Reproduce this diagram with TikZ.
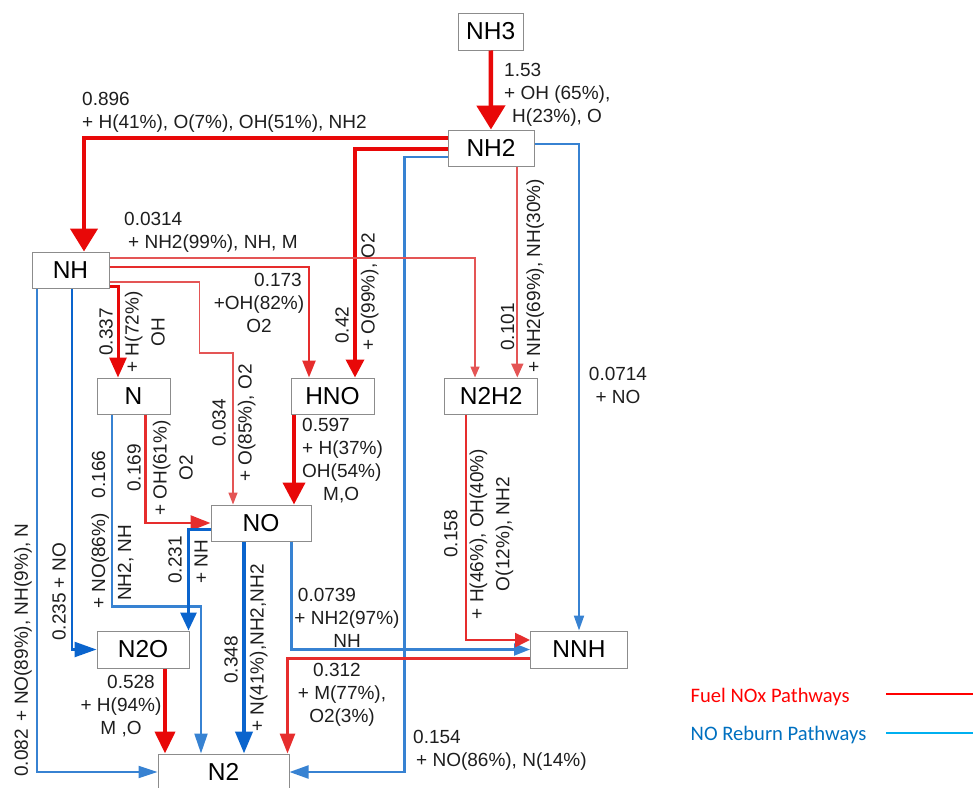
\documentclass[tikz,border=0pt]{standalone}
\usepackage{fontspec}
\setmainfont{Liberation Sans}
\newfontfamily\legendfont{Carlito}
\usetikzlibrary{arrows.meta,calc}
\definecolor{redA}{RGB}{232,8,8}
\definecolor{redM}{RGB}{230,45,45}
\definecolor{redB}{RGB}{228,85,85}
\definecolor{blueA}{RGB}{10,100,205}
\definecolor{blueB}{RGB}{55,130,210}
\definecolor{boxgray}{RGB}{140,140,140}
\definecolor{txt}{RGB}{30,30,30}
\definecolor{legred}{RGB}{255,0,0}
\definecolor{legblue}{RGB}{0,112,192}
\definecolor{legline}{RGB}{0,176,240}
\tikzset{
  box/.style={draw=boxgray, line width=1pt, fill=white, minimum height=36pt, inner sep=0pt, text=black, font=\fontsize{24.5}{28}\selectfont},
  lbl/.style={inner sep=0pt, text=txt, font=\fontsize{19}{23}\selectfont},
  rlbl/.style={inner sep=0pt, text=txt, rotate=90, font=\fontsize{19}{26}\selectfont},
  flow/.style n args={4}{draw=#1, line width=#2, -{Triangle[width=#3,length=#4]}},
  legtext/.style={inner sep=0pt, anchor=base west, font=\legendfont\fontsize{20.6}{24}\selectfont}
}
\begin{document}
\begin{tikzpicture}[x=1pt,y=-1pt]
\useasboundingbox (0,0) rectangle (973,787);
% nodes
\node[box, minimum width=65pt, minimum height=37pt] (NH3) at (490.7,31.5) {NH3};
\node[box, minimum width=86pt] (NH2) at (491,148) {NH2};
\node[box, minimum width=77pt] (NH) at (70.5,270) {NH};
\node[box, minimum width=73pt] (N) at (133.5,396) {N};
\node[box, minimum width=83pt] (HNO) at (332.5,396) {HNO};
\node[box, minimum width=93pt] (N2H2) at (491.2,396) {N2H2};
\node[box, minimum width=100pt] (NO) at (261,523) {NO};
\node[box, minimum width=92pt, minimum height=37pt] (N2O) at (143,649.5) {N2O};
\node[box, minimum width=97pt, minimum height=37pt] (NNH) at (579,649.5) {NNH};
\node[box, minimum width=131pt] (N2) at (223.5,772) {N2};
% connectors
\draw[flow={redA}{4.5pt}{28pt}{24pt}] (NH3) -- (NH2);
\draw[flow={redA}{4.5pt}{27pt}{23pt}] ([yshift=10pt]NH2.west) -| ([xshift=13.5pt]NH.north);
\draw[flow={redA}{3.5pt}{18pt}{18pt}] ([yshift=-1pt]NH2.west) -| ([xshift=22.5pt]HNO.north);
\draw[flow={blueB}{2.2pt}{13pt}{19pt}] ([yshift=-9pt]NH2.west) -| ([xshift=115pt]N2.east) -- (N2.east);
\draw[flow={blueB}{2pt}{10pt}{15pt}] ([yshift=4pt]NH2.east) -| (NNH.north);
\draw[flow={redB}{2pt}{12pt}{14pt}] ([xshift=26.3pt]NH2.south) -- ([xshift=26.3pt]NH2.south |- N2H2.north);
\draw[flow={redB}{1.5pt}{9pt}{11pt}] ([yshift=12pt]NH.east) -| ([xshift=-16.2pt]N2H2.north);
\draw[flow={redM}{2.5pt}{13pt}{17pt}] ([yshift=3pt]NH.east) -| ([xshift=-23.5pt]HNO.north);
\draw[flow={redB}{1.5pt}{9pt}{12pt}] ([yshift=-12pt]NH.east) -- ++(90,0) -- ++(0,71) -| ([xshift=-28pt]NO.north);
\draw[flow={redA}{3pt}{17pt}{20pt}] ([yshift=-16pt]NH.east) -| ([xshift=-15.5pt]N.north);
\draw[flow={blueB}{2pt}{12pt}{19pt}] ([xshift=-33.5pt]NH.south) |- (N2.west);
\draw[flow={blueA}{2.5pt}{15pt}{22pt}] ([xshift=1.5pt]NH.south) |- (N2O.west);
\draw[flow={blueB}{2.2pt}{13pt}{20pt}] ([xshift=-21.5pt]N.south) -- ++(0,192) -| ([xshift=-22.5pt]N2.north);
\draw[flow={redM}{2.5pt}{15pt}{20pt}] ([xshift=12pt]N.south) |- (NO.west);
\draw[flow={redA}{4pt}{22pt}{22pt}] ([xshift=-38.5pt]HNO.south) -- ([xshift=-38.5pt]HNO.south |- NO.north);
\draw[flow={blueA}{3pt}{16pt}{18pt}] ([yshift=-6pt]NO.west) -| ([xshift=45.5pt]N2O.north);
\draw[flow={blueA}{4pt}{17pt}{22pt}] ([xshift=-17pt]NO.south) -- ([xshift=-17pt]NO.south |- N2.north);
\draw[flow={blueB}{2.1pt}{12pt}{16pt}] ([xshift=30.5pt]NO.south) |- (NNH.west);
\draw[flow={redM}{2.5pt}{14pt}{15pt}] ([xshift=-25.4pt]N2H2.south) |- ([yshift=9.5pt]NNH.west);
\draw[flow={redM}{3pt}{15pt}{20pt}] ([yshift=-8.5pt]NNH.west) -| ([xshift=64pt]N2.north);
\draw[flow={redA}{4pt}{20pt}{22pt}] ([xshift=22pt]N2O.south) -- ([xshift=22pt]N2O.south |- N2.north);
% labels
\node[lbl, anchor=north west, align=left] (l1) at (504,63) {1.53\\+ OH (65\%),\\\hspace*{8pt}H(23\%), O};
\node[lbl, anchor=north west, align=left] (l2) at (82,92) {0.896\\+ H(41\%), O(7\%), OH(51\%), NH2};
\node[lbl, anchor=north west, align=left] (l3) at (124,212) {0.0314\\\hspace*{4pt}+ NH2(99\%), NH, M};
\node[lbl, anchor=north, align=center] (l4) at (259,273) {\hspace*{38pt}0.173\\+OH(82\%)\\O2};
\node[rlbl, anchor=west, align=left] (l5) at (357,351) {\hspace*{7pt}0.42\\+ O(99\%), O2};
\node[rlbl, anchor=west, align=left] (l6) at (522.5,373) {\hspace*{22pt}0.101\\+ NH2(69\%), NH(30\%)};
\node[lbl, anchor=north, align=center] (l7) at (618,367) {0.0714\\+ NO};
\node[rlbl, align=center] (l8) at (132,332) {0.337\\+ H(72\%)\\OH};
\node[rlbl, align=center] (l9) at (234,423) {0.034\\+ O(85\%), O2};
\node[rlbl, align=center] (l10) at (160,468) {0.169\\+ OH(61\%)\\O2};
\node[lbl, anchor=north west, align=left] (l11) at (302,418) {0.597\\+ H(37\%)\\OH(54\%)\\\hspace*{21pt}M,O};
\node[rlbl, anchor=west, align=left] (l12) at (112.5,609) {+ NO(86\%)\hspace{15pt}0.166\\\hspace*{8pt}NH2, NH};
\node[rlbl, anchor=west] (l13) at (23,777) {0.082\hspace{8pt}+ NO(89\%), NH(9\%), N};
\node[rlbl, anchor=west] (l14) at (59,641) {0.235 + NO};
\node[rlbl, anchor=west, align=left] (l15) at (188,584) {0.231\\+ NH};
\node[rlbl, align=center] (l16) at (246,648) {0.348\hspace*{24pt}\\+ N(41\%),NH2,NH2};
\node[lbl, anchor=north, align=center] (l17) at (347,588) {0.0739\hspace*{40pt}\\+ NH2(97\%)\\NH};
\node[rlbl, align=center] (l18) at (478.6,534) {0.158\\+ H(46\%), OH(40\%)\\O(12\%), NH2};
\node[lbl, anchor=north, align=center] (l19) at (342,663) {0.312\hspace*{10pt}\\+ M(77\%),\\O2(3\%)};
\node[lbl, anchor=north, align=center] (l20) at (121,675) {\hspace*{20pt}0.528\\+ H(94\%)\\M ,O};
\node[lbl, anchor=north west, align=left] (l21) at (413,730) {0.154\\\hspace*{3pt}+ NO(86\%), N(14\%)};
% legend
\node[legtext, text=legred] (lg1) at (690.5,702) {Fuel NOx Pathways};
\node[legtext, text=legblue] (lg2) at (690.5,740) {NO Reburn Pathways};
\coordinate (r1) at (886,694);
\coordinate (r2) at (982,694);
\coordinate (b1) at (886,732.5);
\coordinate (b2) at (982,732.5);
\draw[legred, line width=2pt, -{Triangle[width=9pt,length=9pt]}] (r1) -- (r2);
\draw[legline, line width=2pt, -{Triangle[width=9pt,length=9pt]}] (b1) -- (b2);
\end{tikzpicture}
\end{document}
